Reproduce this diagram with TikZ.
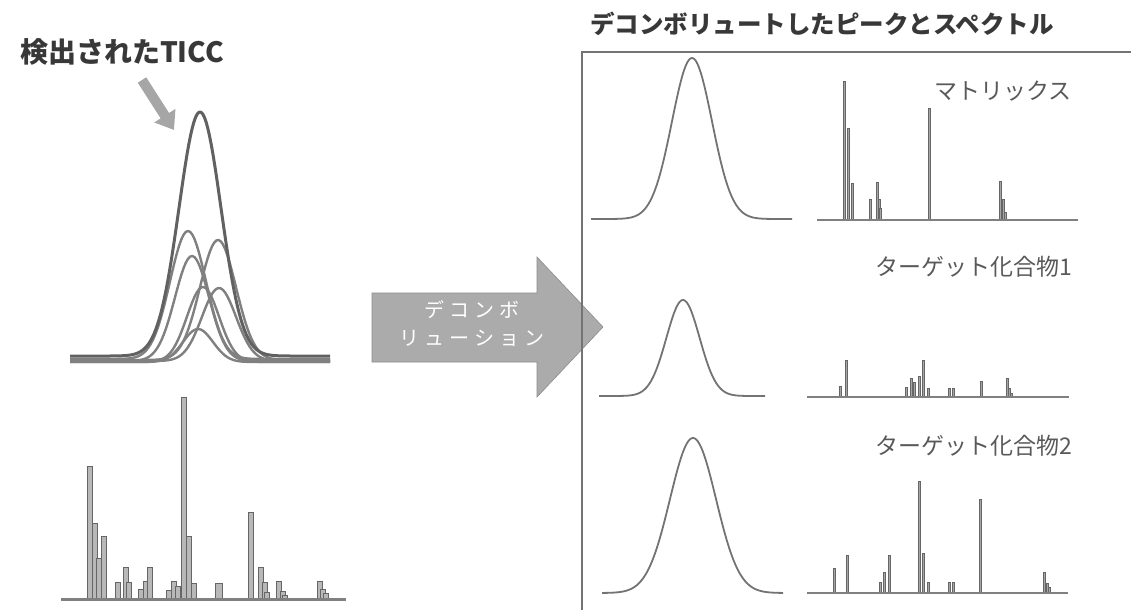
\documentclass[tikz,border=0pt]{standalone}
\usepackage{fontspec}
\newfontfamily\jpfont{Noto Sans CJK JP}
\usetikzlibrary{arrows.meta}

\begin{document}
\begin{tikzpicture}[x=1pt, y=-1pt,
    curve/.style={black!50, line width=2.4pt, line join=round},
    peak/.style={black!55, line width=1.8pt, line join=round},
    bigbar/.style={draw=black!60, fill=black!28, line width=0.8pt},
    bar/.style={draw=black!60, fill=black!35, line width=0.6pt},
    base/.style={black!50, line width=2pt},
    heading/.style={font=\jpfont\bfseries\fontsize{24.5}{28}\selectfont, text=black!78, inner sep=0pt},
    lbl/.style={font=\jpfont\fontsize{23}{26}\selectfont, text=black!65, inner sep=0pt, anchor=east},
    ptr/.style={-{Triangle[length=17pt,width=24pt]}, line width=10pt, black!35}
  ]
  \useasboundingbox (0,0) rectangle (1131,610);

  % left: detected TICC and its components
  \node[heading, font=\jpfont\bfseries\fontsize{28}{30}\selectfont] (ticc) at (122,52) {検出されたTICC};
  \coordinate (ticcfrom) at (142,80);
  \coordinate (ticctip) at (174,130);
  \draw[ptr] (ticcfrom) -- (ticctip);

  \foreach \cx/\sg/\hh/\yb in {188/18/128/359, 218/18/120/360, 192/17/105/361,
                                203/16/75/362, 219/17/73/361, 198/15/33/362}
    \draw[curve] plot[domain=70:330, samples=120] (\x, {\yb-\hh*exp(-0.5*((\x-\cx)/\sg)^2)});
  \draw[curve, black!62, line width=3pt] plot[domain=70:330, samples=150]
    (\x, {356-244*exp(-0.5*((\x-200)/21)^2)});

  % left: mixed spectrum
  \foreach \bx/\by in {90/466, 95/523, 99/558, 104/536, 118/582, 126/567, 129/582,
                       141/589, 146/581, 150/567, 169/590, 174/581, 178/586, 184/397,
                       189/536, 194/583, 251/512, 261/567, 265/582, 267/592,
                       279/581, 283/591, 285/595, 320/581, 323/589, 326/593}
    \draw[bigbar] (\bx-2.2,599) rectangle (\bx+2.2,\by);
  \draw[bigbar] (215.5,599) rectangle (222.5,583);
  \draw[base, line width=3pt] (61,599) -- (346,599);

  % deconvolution arrow
  \fill[black!33, draw=black!45, line width=0.6pt]
    (372,293) -- (537,293) -- (537,257) -- (603,327) -- (537,397) -- (537,362) -- (372,362) -- cycle;
  \node[font=\jpfont\fontsize{20}{28}\selectfont\addfontfeature{LetterSpace=25},
        text=white, align=center, inner sep=0pt] (deconv) at (472,324) {デコンボ\\リューション};

  % right panel
  \node[heading] (restitle) at (822,24) {デコンボリュートしたピークとスペクトル};
  \draw[black!55, line width=1.5pt] (582,610) -- (582,52) -- (1131,52);

  % matrix
  \draw[peak] plot[domain=591:792, samples=120] (\x, {219-161*exp(-0.5*((\x-692)/20)^2)});
  \node[lbl] (lblmat) at (1072,91) {マトリックス};
  \foreach \bx/\by in {844/81, 848/128, 852/183, 870/199, 877/182, 879/199, 880/208,
                       929/108, 1000/181, 1003/199, 1005/212}
    \draw[bar] (\bx-1.2,220) rectangle (\bx+1.2,\by);
  \draw[base] (817,220) -- (1078,220);

  % target compound 1
  \draw[peak] plot[domain=599:765, samples=120] (\x, {396-96*exp(-0.5*((\x-683)/16.6)^2)});
  \node[lbl] (lblone) at (1072,267) {ターゲット化合物1};
  \foreach \bx/\by in {840/386, 846/360, 906/387, 911/378, 914/382, 919/376, 923/360,
                       928/388, 949/388, 953/388, 981/381, 1007/378, 1009/388, 1011/393}
    \draw[bar] (\bx-1.2,397) rectangle (\bx+1.2,\by);
  \draw[base] (807,397) -- (1069,397);

  % target compound 2
  \draw[peak] plot[domain=602:783, samples=120] (\x, {593-155*exp(-0.5*((\x-693)/23)^2)});
  \node[lbl] (lbltwo) at (1072,446) {ターゲット化合物2};
  \foreach \bx/\by in {834/568, 847/555, 880/582, 884/572, 889/555, 919/481, 923/553,
                       928/582, 949/582, 953/582, 980/499, 1044/572, 1047/583, 1049/587}
    \draw[bar] (\bx-1.2,593) rectangle (\bx+1.2,\by);
  \draw[base] (807,593) -- (1068,593);
\end{tikzpicture}
\end{document}
